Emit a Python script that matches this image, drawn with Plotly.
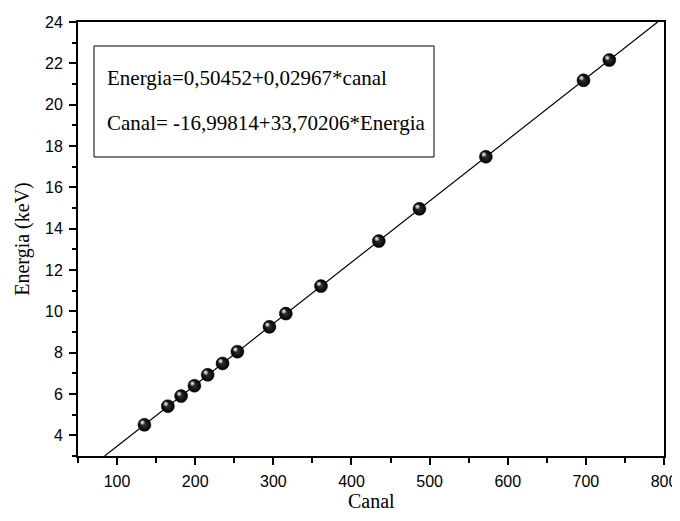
import plotly.graph_objects as go

canal = [135, 165, 182, 199, 216, 235, 254, 295, 316, 361, 435, 487, 572, 697, 730]
energia = [4.51, 5.41, 5.90, 6.40, 6.93, 7.48, 8.05, 9.25, 9.89, 11.22, 13.40, 14.96, 17.48, 21.18, 22.16]
fit_a = 0.50452
fit_b = 0.02967
x_range = [50, 800]
y_range = [3, 24]
x_ticks = [100, 200, 300, 400, 500, 600, 700, 800]
y_ticks = [4, 6, 8, 10, 12, 14, 16, 18, 20, 22, 24]
x_title = "Canal"
y_title = "Energia (keV)"
eq1 = "Energia=0,50452+0,02967*canal"
eq2 = "Canal= -16,99814+33,70206*Energia"

# figure geometry (page body adds an 8px offset)
W, H = 672, 505
ml, mr, mt, mb = 70, 16, 14, 57
pw, ph = W - ml - mr, H - mt - mb
px_x = (x_range[1] - x_range[0]) / pw
px_y = (y_range[1] - y_range[0]) / ph
off = 8

# fit line across the visible range
c0 = (y_range[0] - fit_a) / fit_b
c1 = (y_range[1] - fit_a) / fit_b
line_x = [c0, c1]
line_y = [fit_a + fit_b * c for c in line_x]

fig = go.Figure()
fig.add_trace(go.Scatter(x=line_x, y=line_y, mode="lines",
                         line=dict(color="black", width=1.2), hoverinfo="skip"))
fig.add_trace(go.Scatter(x=canal, y=energia, mode="markers",
                         marker=dict(size=13, color="black",
                                     gradient=dict(type="radial", color="#333333"),
                                     line=dict(width=0.5, color="black"))))
fig.add_trace(go.Scatter(x=[c - 2.0 * px_x for c in canal],
                         y=[e + 2.2 * px_y for e in energia], mode="markers",
                         marker=dict(size=5, color="rgba(80,80,80,1)",
                                     gradient=dict(type="radial", color="#ffffff"),
                                     line=dict(width=0)),
                         hoverinfo="skip"))

axis_common = dict(showline=True, linecolor="black", linewidth=2, mirror=True,
                   ticks="outside", tickcolor="black", tickwidth=1.5, ticklen=7,
                   showgrid=False, zeroline=False, automargin=False,
                   tickfont=dict(family="Liberation Sans, Arial", size=16, color="black"))

fig.update_xaxes(range=x_range, tickvals=x_ticks, ticklabelstandoff=3,
                 minor=dict(ticks="outside", dtick=50, tick0=0, ticklen=5,
                            tickwidth=1.5, tickcolor="black"),
                 **axis_common)
fig.update_yaxes(range=y_range, tickvals=y_ticks, ticklabelstandoff=3,
                 minor=dict(ticks="outside", dtick=1, tick0=0, ticklen=4,
                            tickwidth=1.5, tickcolor="black"),
                 title=dict(text=y_title, standoff=10,
                            font=dict(family="Liberation Serif, Times New Roman", size=20, color="black")),
                 **axis_common)

def px(xp):
    return (xp - off - ml) / pw

def py(yp):
    return (H - mb - (yp - off)) / ph

fig.add_annotation(text=x_title, xref="paper", yref="paper",
                   x=px(371), y=-mb / ph, xanchor="center", yanchor="bottom",
                   showarrow=False, borderpad=0,
                   font=dict(family="Liberation Serif, Times New Roman", size=20, color="black"))

fig.add_shape(type="rect", xref="paper", yref="paper",
              x0=px(94), x1=px(434), y0=py(157), y1=py(46),
              line=dict(color="black", width=1), fillcolor="rgba(0,0,0,0)")
for txt, ypix in [(eq1, 78), (eq2, 123)]:
    fig.add_annotation(text=txt, xref="paper", yref="paper",
                       x=px(105), y=py(ypix),
                       xanchor="left", yanchor="middle", showarrow=False,
                       font=dict(family="Liberation Serif, Times New Roman", size=21, color="black"))

fig.update_layout(width=W, height=H, margin=dict(l=ml, r=mr, t=mt, b=mb),
                  plot_bgcolor="white", paper_bgcolor="white", showlegend=False)

fig.write_html("out.html")
